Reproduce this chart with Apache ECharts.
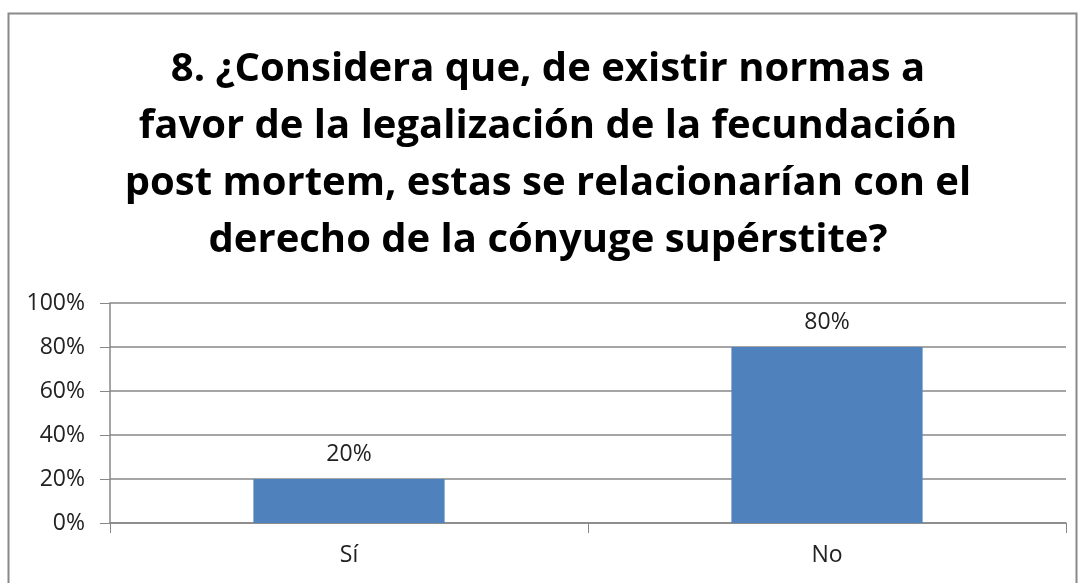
<!DOCTYPE html>
<html>
<head>
<meta charset="utf-8">
<script src="https://cdn.jsdelivr.net/npm/echarts@6/dist/echarts.min.js"></script>
<style>
  html, body { margin: 0; padding: 0; background: #fff; }
  #chartmain { width: 1082px; height: 583px; }
</style>
</head>
<body>
<div id="chartmain"></div>
<script>
// datos del gráfico
var categorias = ["Sí", "No"];
var valores = [20, 80];
var titulo = "8. ¿Considera que, de existir normas a\nfavor de la legalización de la fecundación\npost mortem, estas se relacionarían con el\nderecho de la cónyuge supérstite?";
var ejeMin = 0, ejeMax = 100, ejePaso = 20;

var myChart = echarts.init(document.getElementById("chartmain"));
var option = {
  animation: false,
  backgroundColor: "#fff",
  // marco del gráfico
  graphic: [{
    type: "rect",
    shape: { x: 8.5, y: 13.5, width: 1068, height: 600 },
    style: { fill: null, stroke: "#898989", lineWidth: 2 },
    silent: true
  }],
  title: {
    text: titulo,
    left: 548,
    top: 41,
    padding: 0,
    textAlign: "center",
    textStyle: {
      fontFamily: "Open Sans",
      fontWeight: "bold",
      fontSize: 40,
      lineHeight: 57,
      color: "#000"
    }
  },
  grid: { left: 110, right: 16, top: 303, bottom: 60 },
  xAxis: {
    type: "category",
    data: categorias,
    axisLine: { lineStyle: { color: "#878787", width: 1.5 } },
    axisTick: { show: true, length: 10, alignWithLabel: false, lineStyle: { color: "#878787" } },
    axisLabel: { fontFamily: "Open Sans", fontSize: 23, color: "#222", margin: 21 }
  },
  yAxis: {
    type: "value",
    min: ejeMin,
    max: ejeMax,
    interval: ejePaso,
    axisLine: { show: true, lineStyle: { color: "#878787", width: 1.5 } },
    axisTick: { show: true, length: 10, lineStyle: { color: "#878787" } },
    splitLine: { lineStyle: { color: "#878787", width: 1.5 } },
    axisLabel: {
      fontFamily: "Open Sans",
      fontSize: 23,
      color: "#222",
      margin: 25,
      formatter: "{value}%"
    }
  },
  series: [{
    type: "bar",
    data: valores,
    barWidth: "40%",
    itemStyle: { color: "#4F81BD" },
    label: {
      show: true,
      position: "top",
      distance: 13,
      formatter: "{c}%",
      fontFamily: "Open Sans",
      fontSize: 23,
      color: "#222"
    }
  }]
};
myChart.setOption(option);
</script>
</body>
</html>
